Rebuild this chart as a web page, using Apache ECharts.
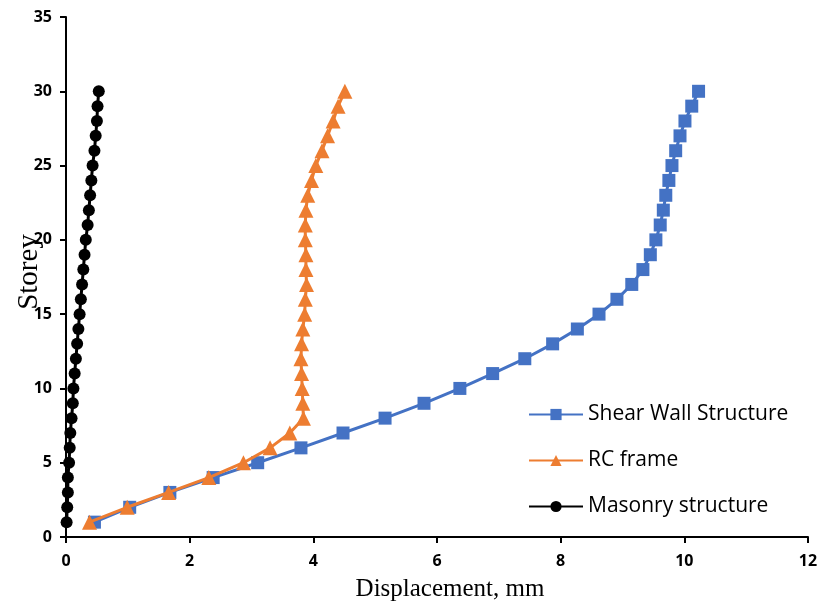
<!DOCTYPE html>
<html>
<head>
<meta charset="utf-8">
<script src="https://cdn.jsdelivr.net/npm/echarts@6/dist/echarts.min.js"></script>
<style>
  html, body { margin: 0; padding: 0; background: #fff; }
  #chart { width: 821px; height: 605px; }
</style>
</head>
<body>
<div id="chart"></div>
<script>
// storey numbers 1..30
const storeys = [1, 2, 3, 4, 5, 6, 7, 8, 9, 10, 11, 12, 13, 14, 15,
  16, 17, 18, 19, 20, 21, 22, 23, 24, 25, 26, 27, 28, 29, 30];

// displacement in mm
const shearWall = [0.46, 1.03, 1.68, 2.38, 3.10, 3.80, 4.48, 5.16, 5.79, 6.37,
  6.90, 7.42, 7.87, 8.27, 8.62, 8.91, 9.15, 9.33, 9.45, 9.54,
  9.61, 9.66, 9.70, 9.75, 9.80, 9.86, 9.93, 10.01, 10.12, 10.23];
const rcFrame = [0.38, 0.99, 1.66, 2.31, 2.87, 3.30, 3.62, 3.84, 3.83, 3.82,
  3.81, 3.80, 3.81, 3.83, 3.86, 3.87, 3.89, 3.88, 3.88, 3.87,
  3.87, 3.88, 3.91, 3.97, 4.04, 4.14, 4.23, 4.32, 4.40, 4.51];
const masonry = [0.01, 0.02, 0.03, 0.03, 0.05, 0.06, 0.07, 0.09, 0.11, 0.12,
  0.14, 0.16, 0.18, 0.20, 0.22, 0.24, 0.26, 0.28, 0.30, 0.32,
  0.35, 0.37, 0.39, 0.41, 0.43, 0.46, 0.48, 0.50, 0.51, 0.53];

const seriesNames = ["Shear Wall Structure", "RC frame", "Masonry structure"];

const pairs = (vals) => vals.map((v, i) => [v, storeys[i]]);

const myChart = echarts.init(document.getElementById("chart"));

const tickFont = {
  color: "#000",
  fontFamily: "Open Sans",
  fontWeight: "bold",
  fontSize: 16,
};

myChart.setOption({
  animation: false,
  grid: { left: 66, right: 13, top: 17, bottom: 68, containLabel: false, outerBoundsMode: "none" },
  xAxis: {
    type: "value",
    min: 0,
    max: 12,
    interval: 2,
    name: "Displacement, mm",
    nameLocation: "middle",
    nameGap: 40,
    nameTextStyle: { color: "#000", fontFamily: "Liberation Serif", fontSize: 25, padding: [0, 0, 0, 26] },
    axisLine: { show: true, onZero: false, lineStyle: { color: "#000", width: 2 } },
    axisTick: { show: true, length: 6, lineStyle: { color: "#000", width: 2 } },
    axisLabel: Object.assign({ margin: 16 }, tickFont),
    splitLine: { show: false },
  },
  yAxis: {
    type: "value",
    min: 0,
    max: 35,
    interval: 5,
    name: "Storey",
    nameLocation: "middle",
    nameGap: 22,
    nameMoveOverlap: false,
    nameRotate: 90,
    nameTextStyle: { color: "#000", fontFamily: "Liberation Serif", fontSize: 29, padding: [0, 0, 0, 10] },
    axisLine: { show: true, onZero: false, lineStyle: { color: "#000", width: 2 } },
    axisTick: { show: true, length: 6, lineStyle: { color: "#000", width: 2 } },
    axisLabel: Object.assign({ margin: 14 }, tickFont),
    splitLine: { show: false },
  },
  legend: {
    orient: "vertical",
    left: 523,
    top: 399,
    itemGap: 25,
    itemWidth: 54,
    itemHeight: 14,
    textStyle: { color: "#000", fontFamily: "Open Sans", fontSize: 21 },
    data: seriesNames,
  },
  series: [
    {
      name: seriesNames[0],
      type: "line",
      data: pairs(shearWall),
      symbol: "rect",
      symbolSize: 13,
      itemStyle: { color: "#4472C4" },
      lineStyle: { color: "#4472C4", width: 3 },
      z: 1,
    },
    {
      name: seriesNames[1],
      type: "line",
      data: pairs(rcFrame),
      symbol: "triangle",
      symbolSize: 15,
      itemStyle: { color: "#ED7D31" },
      lineStyle: { color: "#ED7D31", width: 3 },
      z: 2,
    },
    {
      name: seriesNames[2],
      type: "line",
      data: pairs(masonry),
      symbol: "circle",
      symbolSize: 12,
      itemStyle: { color: "#000" },
      lineStyle: { color: "#000", width: 3 },
      z: 3,
    },
  ],
});
</script>
</body>
</html>
